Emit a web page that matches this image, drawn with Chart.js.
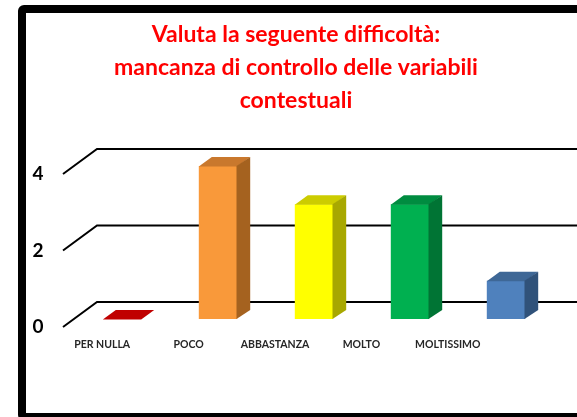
<!DOCTYPE html>
<html>
<head>
<meta charset="utf-8">
<script src="https://cdn.jsdelivr.net/npm/chart.js@4.4.1/dist/chart.umd.min.js"></script>
<style>
  html, body { margin: 0; padding: 0; background: #fff; overflow: hidden; width: 577px; height: 417px; }
  #cornice { position: absolute; left: 18px; top: 5px; width: 620px; height: 416px; border: 8px solid #000; border-radius: 6px; box-sizing: border-box; }
  #grafico { position: absolute; left: 0; top: 0; }
</style>
</head>
<body>
<div id="cornice"></div>
<canvas id="grafico" width="577" height="417"></canvas>
<script>
const categorie = ['PER NULLA', 'POCO', 'ABBASTANZA', 'MOLTO', 'MOLTISSIMO'];
const valori = [0, 4, 3, 3, 1];
const coloriFronte = ['#C00000', '#F9993A', '#FFFF00', '#00B050', '#4F81BD'];
const coloriSopra = ['#C00000', '#C9782D', '#CCCC00', '#008C40', '#3E6796'];
const coloriLato = ['#8A0000', '#A5621F', '#A8A800', '#007434', '#30527A'];
const titolo = ['Valuta la seguente difficoltà:', 'mancanza di controllo delle variabili', 'contestuali'];

// profondità del pavimento e delle barre (prospettiva finta)
const fronte = { dx: -11, dy: 8 };
const retro = { dx: 23, dy: -17 };
const spessore = { dx: 13, dy: -9 };

const effetto3d = {
  id: 'effetto3d',
  beforeDatasetsDraw(chart) {
    const { ctx, chartArea, scales: { y } } = chart;
    ctx.save();
    ctx.strokeStyle = '#000';
    ctx.lineWidth = 2;
    ctx.fillStyle = '#000';
    ctx.font = 'bold 19px Lato';
    ctx.textAlign = 'center';
    ctx.textBaseline = 'middle';
    y.ticks.forEach(t => {
      const py = y.getPixelForValue(t.value);
      ctx.beginPath();
      ctx.moveTo(chartArea.left + fronte.dx, py + fronte.dy);
      ctx.lineTo(chartArea.left + retro.dx, py + retro.dy);
      ctx.lineTo(chart.width, py + retro.dy);
      ctx.stroke();
      ctx.fillText(String(t.value), chartArea.left - 36, py + fronte.dy);
    });
    ctx.restore();
  },
  afterDatasetsDraw(chart) {
    const { ctx } = chart;
    const meta = chart.getDatasetMeta(0);
    ctx.save();
    meta.data.forEach((bar, i) => {
      const { x, y, base, width } = bar.getProps(['x', 'y', 'base', 'width'], true);
      const l = x - width / 2, r = x + width / 2;
      ctx.fillStyle = coloriSopra[i];
      ctx.beginPath();
      ctx.moveTo(l, y + 0.5);
      ctx.lineTo(r, y + 0.5);
      ctx.lineTo(r + spessore.dx, y + spessore.dy);
      ctx.lineTo(l + spessore.dx, y + spessore.dy);
      ctx.closePath();
      ctx.fill();
      if (base - y > 0.5) {
        ctx.fillStyle = coloriLato[i];
        ctx.beginPath();
        ctx.moveTo(r - 0.7, y);
        ctx.lineTo(r + spessore.dx, y + spessore.dy);
        ctx.lineTo(r + spessore.dx, base + spessore.dy);
        ctx.lineTo(r - 0.7, base);
        ctx.closePath();
        ctx.fill();
      }
    });
    ctx.restore();
  },
  afterDraw(chart) {
    const { ctx, chartArea } = chart;
    const meta = chart.getDatasetMeta(0);
    ctx.save();
    ctx.fillStyle = '#262626';
    ctx.font = 'bold 10.5px Lato';
    ctx.textAlign = 'center';
    ctx.textBaseline = 'middle';
    meta.data.forEach((bar, i) => {
      const lx = chartArea.left + fronte.dx - 4 + (bar.x - chartArea.left) * 0.9;
      ctx.fillText(categorie[i], lx, chartArea.bottom + 26);
    });
    ctx.restore();
  }
};

new Chart(document.getElementById('grafico'), {
  type: 'bar',
  data: {
    labels: categorie,
    datasets: [{
      data: valori,
      backgroundColor: coloriFronte,
      borderWidth: 0,
      barPercentage: 0.4,
      categoryPercentage: 1
    }]
  },
  options: {
    responsive: false,
    animation: false,
    layout: { padding: { left: 38, right: 23, top: 0, bottom: 98 } },
    plugins: {
      legend: { display: false },
      tooltip: { enabled: false },
      title: {
        display: true,
        text: titolo,
        color: '#FF0000',
        font: { family: 'Lato', size: 23, weight: 'bold', lineHeight: '33px' },
        padding: { top: 18, bottom: 49 }
      }
    },
    scales: {
      x: { display: false },
      y: {
        min: 0,
        max: 4,
        ticks: { stepSize: 2, display: false },
        grid: { display: false },
        border: { display: false },
        afterFit(s) { s.width = 36; }
      }
    }
  },
  plugins: [effetto3d]
});
</script>
</body>
</html>
